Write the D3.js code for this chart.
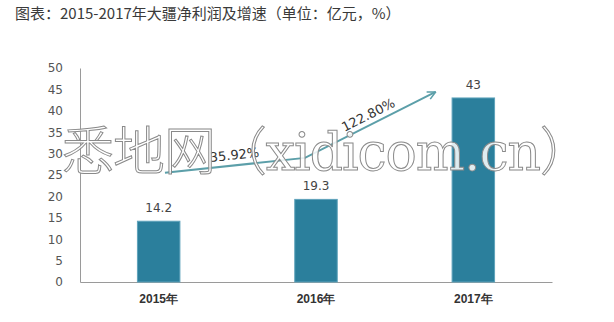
<!DOCTYPE html>
<html>
<head>
<meta charset="utf-8">
<script src="https://cdn.jsdelivr.net/npm/d3@7"></script>
<style>
  body { margin: 0; background: #fff; }
  svg { display: block; font-family: "Noto Sans CJK SC", "Noto Sans", sans-serif; }
</style>
</head>
<body>
<svg id="chart"></svg>
<script>
const title = '图表：2015-2017年大疆净利润及增速（单位：亿元，%）';
const years = ['2015年', '2016年', '2017年'];
const profits = [14.2, 19.3, 43];
const yTicks = [0, 5, 10, 15, 20, 25, 30, 35, 40, 45, 50];
// growth arrow, in (category index, value) units
const arrowPoints = [[0.04, 25.5], [0.93, 29], [1.76, 44.4]];
const growthLabels = ['35.92%', '122.80%'];
const watermark = '悉地网（xidicom.cn）';

const width = 614, height = 322;
const margin = { top: 68, right: 62, bottom: 40, left: 80 };

const svg = d3.select('#chart')
  .attr('width', width)
  .attr('height', height);

svg.append('text')
  .attr('x', 15)
  .attr('y', 19)
  .attr('fill', '#3a3a3a')
  .style('font-size', '15px')
  .text(title);

const x = d3.scaleBand()
  .domain(years)
  .range([margin.left, width - margin.right])
  .paddingInner(0.73)
  .paddingOuter(0.365);

const y = d3.scaleLinear()
  .domain([0, 50])
  .range([height - margin.bottom, margin.top]);

// index -> x for the arrow (band centers)
const xi = d3.scaleLinear()
  .domain([0, 1])
  .range([x(years[0]) + x.bandwidth() / 2, x(years[1]) + x.bandwidth() / 2]);

// y axis
const yAxis = svg.append('g')
  .attr('transform', `translate(${margin.left},0)`)
  .call(d3.axisLeft(y).tickValues(yTicks).tickSize(0).tickPadding(17));
yAxis.select('.domain').attr('stroke', '#9a9a9a');
yAxis.selectAll('text')
  .attr('fill', '#555')
  .style('font-size', '12px')
  .style('font-family', 'Verdana, "DejaVu Sans", sans-serif');

// x axis
const xAxis = svg.append('g')
  .attr('transform', `translate(0,${y(0)})`)
  .call(d3.axisBottom(x).tickSize(0).tickPadding(12));
xAxis.select('.domain').attr('stroke', '#9a9a9a');
xAxis.selectAll('text')
  .attr('fill', '#333')
  .style('font-size', '12px')
  .style('font-weight', 'bold');

// bars
svg.selectAll('rect.bar')
  .data(profits)
  .enter()
  .append('rect')
  .attr('class', 'bar')
  .attr('x', (d, i) => x(years[i]))
  .attr('y', d => y(d))
  .attr('width', x.bandwidth())
  .attr('height', d => y(0) - y(d))
  .attr('fill', '#2b7f9c')
  .attr('stroke', '#5fa3bb')
  .attr('stroke-width', 1);

svg.selectAll('text.val')
  .data(profits)
  .enter()
  .append('text')
  .attr('class', 'val')
  .attr('x', (d, i) => x(years[i]) + x.bandwidth() / 2)
  .attr('y', d => y(d) - 9)
  .attr('text-anchor', 'middle')
  .attr('fill', '#444')
  .style('font-size', '12px')
  .style('font-family', 'Verdana, "DejaVu Sans", sans-serif')
  .text(d => d);

// growth arrow
svg.append('defs').append('marker')
  .attr('id', 'head')
  .attr('viewBox', '0 0 10 10')
  .attr('refX', 9)
  .attr('refY', 5)
  .attr('markerWidth', 10)
  .attr('markerHeight', 10)
  .attr('markerUnits', 'userSpaceOnUse')
  .attr('orient', 'auto')
  .append('path')
  .attr('d', 'M1,1 L9,5 L1,9')
  .attr('fill', 'none')
  .attr('stroke', '#5c9fa9')
  .attr('stroke-width', 1.6);

const pts = arrowPoints.map(p => [xi(p[0]), y(p[1])]);
svg.append('path')
  .attr('d', d3.line()(pts))
  .attr('fill', 'none')
  .attr('stroke', '#5c9fa9')
  .attr('stroke-width', 2)
  .attr('marker-end', 'url(#head)');

growthLabels.forEach((t, i) => {
  const a = pts[i], b = pts[i + 1];
  const ang = Math.atan2(b[1] - a[1], b[0] - a[0]) * 180 / Math.PI;
  const mx = (a[0] + b[0]) / 2, my = (a[1] + b[1]) / 2 - 6;
  svg.append('text')
    .attr('transform', `translate(${mx},${my}) rotate(${ang})`)
    .attr('text-anchor', 'middle')
    .attr('fill', '#333')
    .style('font-size', '13px')
    .style('font-family', 'Verdana, "DejaVu Sans", sans-serif')
    .text(t);
});

// watermark
svg.append('text')
  .attr('x', 62)
  .attr('y', 170)
  .attr('textLength', 530)
  .attr('lengthAdjust', 'spacing')
  .attr('fill', '#fff')
  .attr('fill-opacity', 0.85)
  .attr('stroke', '#8a8a8a')
  .attr('stroke-width', 1)
  .style('font-size', '52px')
  .style('font-family', '"DejaVu Serif", "Noto Sans CJK SC", serif')
  .style('font-weight', '300')
  .text(watermark);
</script>
</body>
</html>
